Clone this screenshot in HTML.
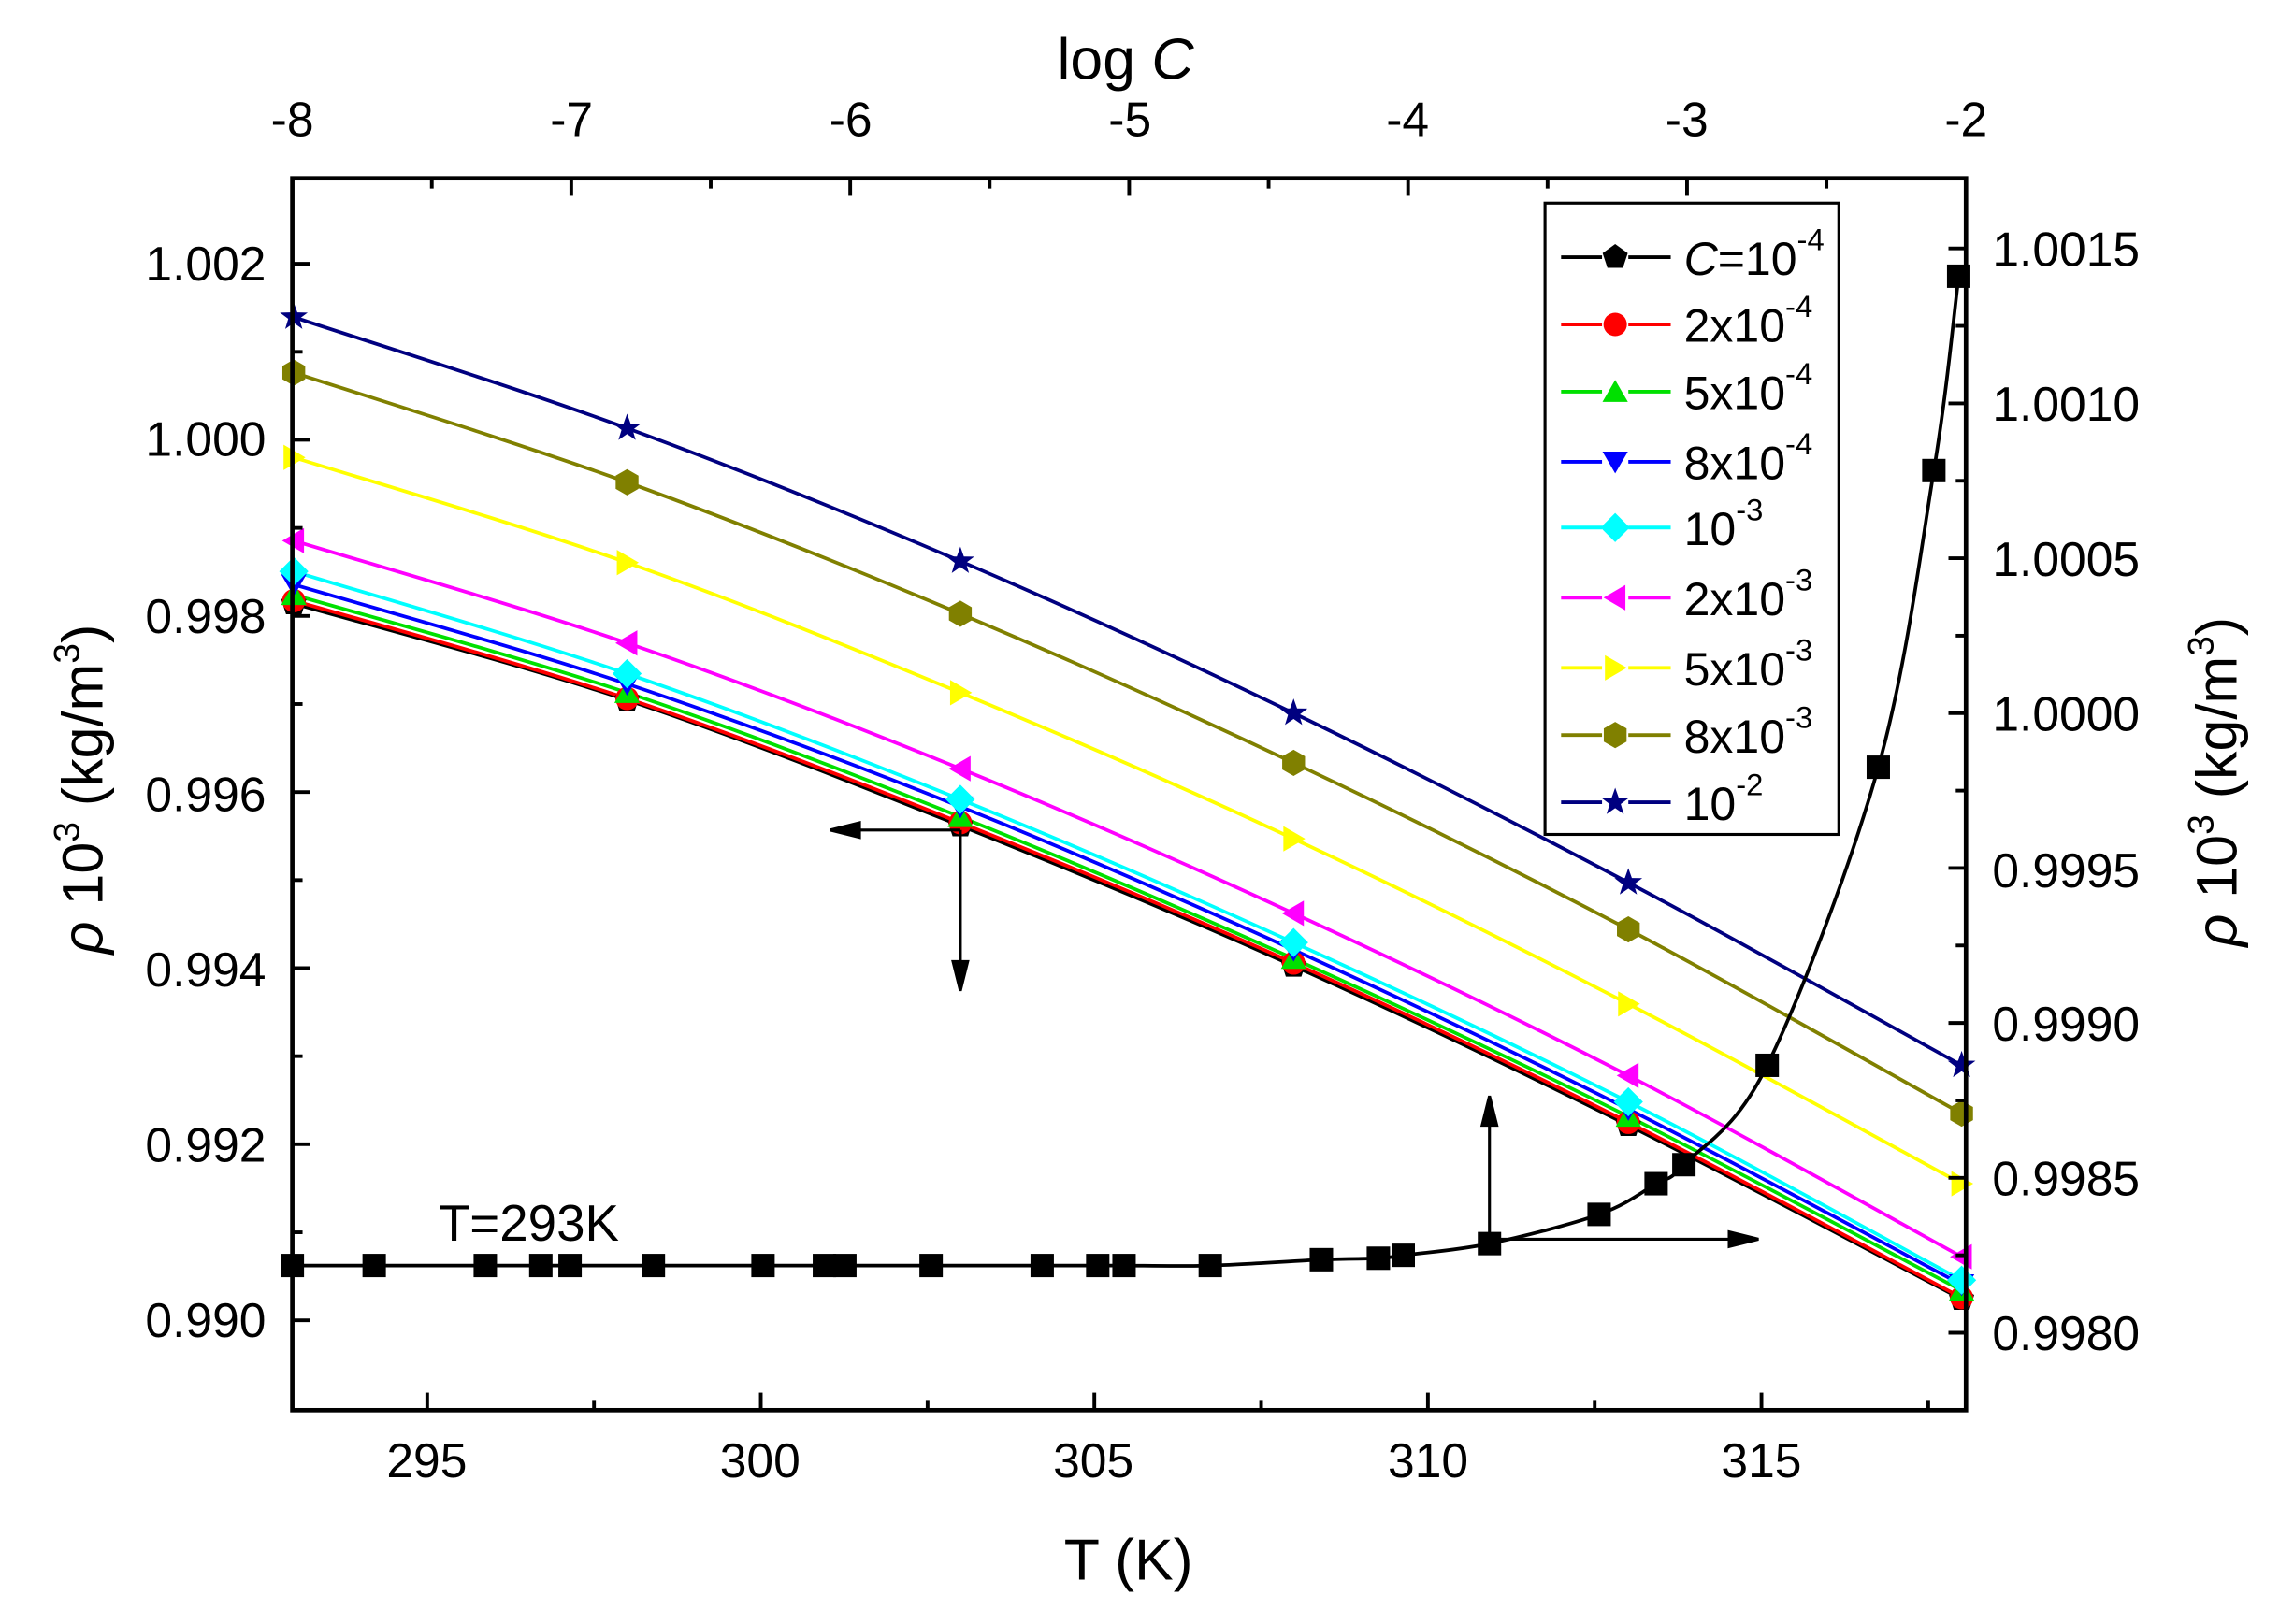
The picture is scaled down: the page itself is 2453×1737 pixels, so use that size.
<!DOCTYPE html>
<html><head><meta charset="utf-8"><style>html,body{margin:0;padding:0;background:#fff}svg{display:block}</style></head>
<body>
<svg id="s" xmlns="http://www.w3.org/2000/svg" width="2453" height="1737" viewBox="0 0 1569.4 1111.3" preserveAspectRatio="none" font-family="Liberation Sans, Arial, sans-serif">
<rect width="1569.4" height="1111.3" fill="#fff"/>
<g id="curves"></g>
<g id="ticks" stroke="#000" stroke-width="2.5"></g>
<rect x="200" y="122" width="1145" height="843" fill="none" stroke="#000" stroke-width="3"/>
<g font-size="33" fill="#000" text-anchor="middle">
<text x="292" y="1011">295</text><text x="520" y="1011">300</text><text x="748" y="1011">305</text><text x="977" y="1011">310</text><text x="1205" y="1011">315</text>
<text x="200" y="93">-8</text><text x="391" y="93">-7</text><text x="582" y="93">-6</text><text x="773" y="93">-5</text><text x="963" y="93">-4</text><text x="1154" y="93">-3</text><text x="1345" y="93">-2</text>
</g>
<g font-size="33" fill="#000" text-anchor="end">
<text x="182" y="192">1.002</text><text x="182" y="312">1.000</text><text x="182" y="433">0.998</text><text x="182" y="555">0.996</text><text x="182" y="675">0.994</text><text x="182" y="795">0.992</text><text x="182" y="915">0.990</text>
</g>
<g font-size="33" fill="#000" text-anchor="start">
<text x="1363" y="182">1.0015</text><text x="1363" y="288">1.0010</text><text x="1363" y="394">1.0005</text><text x="1363" y="500">1.0000</text><text x="1363" y="607">0.9995</text><text x="1363" y="712">0.9990</text><text x="1363" y="818">0.9985</text><text x="1363" y="924">0.9980</text>
</g>
<text x="772" y="1081" font-size="40" text-anchor="middle">T (K)</text>
<text x="770" y="54" font-size="40" text-anchor="middle">log <tspan font-style="italic">C</tspan></text>
<text transform="translate(70,540) rotate(-90)" font-size="39" text-anchor="middle"><tspan font-style="italic">ρ</tspan> 10<tspan font-size="25" dy="-16">3</tspan><tspan dy="16"> (kg/m</tspan><tspan font-size="25" dy="-16">3</tspan><tspan dy="16">)</tspan></text>
<text transform="translate(1530,535) rotate(-90)" font-size="39" text-anchor="middle"><tspan font-style="italic">ρ</tspan> 10<tspan font-size="25" dy="-16">3</tspan><tspan dy="16"> (kg/m</tspan><tspan font-size="25" dy="-16">3</tspan><tspan dy="16">)</tspan></text>
<text x="300" y="849" font-size="35">T=293K</text>
<g stroke="#000" stroke-width="2" fill="#000">
<line x1="657" y1="568" x2="580" y2="568"/><polygon points="568,568 588,563 588,573"/>
<line x1="657" y1="568" x2="657" y2="666"/><polygon points="657,678 652,658 662,658"/>
<line x1="1019" y1="848" x2="1019" y2="762"/><polygon points="1019,750 1014,770 1024,770"/>
<line x1="1019" y1="848" x2="1191" y2="848"/><polygon points="1203,848 1183,843 1183,853"/>
</g>
<rect x="1057" y="139" width="201" height="432" fill="#fff" stroke="#000" stroke-width="2"/>
<g id="legend"></g>
</svg>
<script>
const NS="http://www.w3.org/2000/svg";
function el(t,a,p){const e=document.createElementNS(NS,t);for(const k in a)e.setAttribute(k,a[k]);p.appendChild(e);return e;}
const ticks=document.getElementById('ticks');
const xT=t=>201+(t-293)*45.64;
for(let t=295;t<=317.5;t+=2.5){const maj=(t%5===0);const x=xT(t);const L=maj?12:7;
 el('line',{x1:x,y1:965,x2:x,y2:965-L},ticks);}
for(let v=-8;v<=-2;v+=0.5){const x=200+(v+8)*190.83;const L=(v%1===0)?12:7;el('line',{x1:x,y1:122,x2:x,y2:122+L},ticks);}
for(let i=0;i<=14;i++){const y=180.5+i*60.25;if(y>963)break;const L=(i%2===0)?12:7;el('line',{x1:200,y1:y,x2:200+L,y2:y},ticks);}
for(let i=-1;i<=15;i++){const y=170+i*53;if(y<124||y>963)continue;const L=(i%2===0)?12:7;el('line',{x1:1345,y1:y,x2:1345-L,y2:y},ticks);}
const xs=[201,429,657,885,1114,1342];
const S=[
['#000','pent',[413,479,565,661,770,889],'<tspan font-style="italic">C</tspan>=10','-4'],
['#ff0000','circ',[411,478,563,659,768,888],'2x10','-4'],
['#00e000','tup',[407,474,559,656,764,883],'5x10','-4'],
['#0000ff','tdn',[400,468,552,650,759,879],'8x10','-4'],
['#00ffff','dia',[391,461,547,645,754,876],'10','-3'],
['#ff00ff','tl',[370,440,526,625,736,860],'2x10','-3'],
['#ffff00','tr',[313,385,474,574,687,810],'5x10','-3'],
['#808000','hex',[255,330,420,522,636,762],'8x10','-3'],
['#000080','star',[217,293,384,488,604,729],'10','-2']];
function smooth(p){let d='M'+p[0][0]+','+p[0][1];for(let i=0;i<p.length-1;i++){const p0=p[i-1]||p[i],p1=p[i],p2=p[i+1],p3=p[i+2]||p2;
 d+=' C'+(p1[0]+(p2[0]-p0[0])/6)+','+(p1[1]+(p2[1]-p0[1])/6)+' '+(p2[0]-(p3[0]-p1[0])/6)+','+(p2[1]-(p3[1]-p1[1])/6)+' '+p2[0]+','+p2[1];}return d;}
function poly(cx,cy,r,n,rot){let a=[];for(let i=0;i<n;i++){const t=rot+i*2*Math.PI/n;a.push((cx+r*Math.cos(t)).toFixed(1)+','+(cy+r*Math.sin(t)).toFixed(1));}return a.join(' ');}
function marker(type,x,y,c,g){
 if(type==='circ')el('circle',{cx:x,cy:y,r:8,fill:c},g);
 else if(type==='pent')el('polygon',{points:poly(x,y,9,5,-Math.PI/2),fill:c},g);
 else if(type==='tup')el('polygon',{points:poly(x,y+2,10,3,-Math.PI/2),fill:c},g);
 else if(type==='tdn')el('polygon',{points:poly(x,y-2,10,3,Math.PI/2),fill:c},g);
 else if(type==='tl')el('polygon',{points:poly(x+2,y,10,3,Math.PI),fill:c},g);
 else if(type==='tr')el('polygon',{points:poly(x-2,y,10,3,0),fill:c},g);
 else if(type==='dia')el('polygon',{points:poly(x,y,10,4,0),fill:c},g);
 else if(type==='hex')el('polygon',{points:poly(x,y,9,6,-Math.PI/2),fill:c},g);
 else if(type==='star'){let a=[];for(let i=0;i<10;i++){const t=-Math.PI/2+i*Math.PI/5;const rr=i%2?4:10;a.push((x+rr*Math.cos(t)).toFixed(1)+','+(y+rr*Math.sin(t)).toFixed(1));}el('polygon',{points:a.join(' '),fill:c},g);}
}
const cg=document.getElementById('curves');
S.forEach(s=>{const pts=xs.map((x,i)=>[x,s[2][i]]);el('path',{d:smooth(pts),fill:'none',stroke:s[0],'stroke-width':2.4},cg);});
S.forEach(s=>{xs.forEach((x,i)=>marker(s[1],x,s[2][i],s[0],cg));});
const bp=[[200,866],[256,866],[332,866],[370,866],[390,866],[447,866],[522,866],[564,866],[578,866],[637,866],[713,866],[751,866],[769,866],[828,866],[904,862],[943,861],[960,859],[1019,851],[1094,831],[1133,810],[1152,797],[1209,729],[1285,525],[1323,322],[1340,189]];
el('path',{d:smooth(bp),fill:'none',stroke:'#000','stroke-width':2.4},cg);
bp.forEach(p=>el('rect',{x:p[0]-8,y:p[1]-8,width:16,height:16,fill:'#000'},cg));
const lg=document.getElementById('legend');
const ly=[176,222,268,316,361,409,457,503,549];
S.forEach((s,i)=>{const y=ly[i];
 el('line',{x1:1068,y1:y,x2:1096,y2:y,stroke:s[0],'stroke-width':2.5},lg);
 el('line',{x1:1114,y1:y,x2:1143,y2:y,stroke:s[0],'stroke-width':2.5},lg);
 marker(s[1],1105,y,s[0],lg);
 const t=el('text',{x:1152,y:y+12,'font-size':32},lg);
 t.innerHTML=s[3]+'<tspan font-size="21" dy="-17">'+s[4]+'</tspan>';
});
</script>
</body></html>
